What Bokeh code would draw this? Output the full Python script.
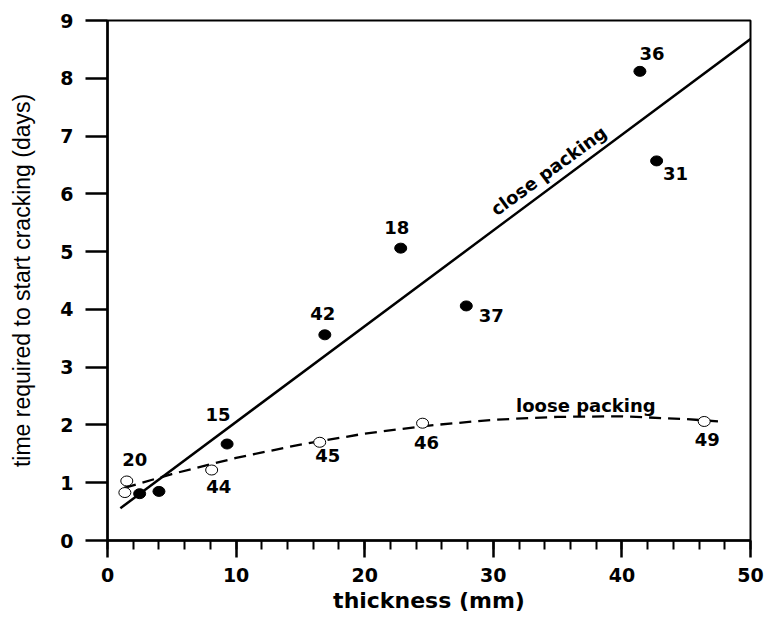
from bokeh.plotting import figure
from bokeh.models import ColumnDataSource, Range1d, FixedTicker
from bokeh.core.properties import value
from bokeh.embed import file_html
from bokeh.resources import INLINE

# ---- data ----
close_x = [41.4, 42.7, 22.8, 27.9, 16.9, 9.3, 2.5, 4.0]
close_y = [8.12, 6.57, 5.06, 4.06, 3.56, 1.67, 0.81, 0.85]
close_ids = ["36", "31", "18", "37", "42", "15", "", ""]

loose_x = [1.5, 1.35, 8.1, 16.5, 24.5, 46.4]
loose_y = [1.03, 0.83, 1.22, 1.70, 2.03, 2.06]
loose_ids = ["20", "", "44", "45", "46", "49"]

close_fit_x = [1.0, 50.0]
close_fit_y = [0.56, 8.68]

loose_fit_x = [1.3, 5, 10, 15, 20, 25, 30, 35, 40, 45, 47.7]
loose_fit_y = [0.91, 1.15, 1.43, 1.66, 1.85, 1.99, 2.09, 2.14, 2.15, 2.10, 2.06]

x_major = [0, 10, 20, 30, 40, 50]
x_minor = list(range(0, 51, 2))
y_major = [0, 1, 2, 3, 4, 5, 6, 7, 8, 9]

# label placement (screen px offsets from each point)
close_dx = [12, 19, -4, 25, -2, -9, 0, 0]
close_dy = [-18, 13, -21, 10, -21, -30, 0, 0]
loose_dx = [8, 0, 7, 8, 4, 3]
loose_dy = [-21, 0, 16, 13, 19, 18]

BOLD = "DejaVu Sans"

p = figure(width=766, height=617, output_backend="svg", toolbar_location=None,
           x_range=Range1d(0, 50), y_range=Range1d(0, 9))
p.min_border_left = 107
p.min_border_right = 16
p.min_border_top = 20
p.min_border_bottom = 77
p.background_fill_color = "white"
p.border_fill_color = "white"
p.grid.visible = False
p.outline_line_color = "black"
p.outline_line_width = 2
p.outline_line_alpha = 1

xa = p.xaxis[0]
xa.ticker = FixedTicker(ticks=x_major, minor_ticks=x_minor)
xa.axis_label = "thickness (mm)"
xa.axis_label_text_font = BOLD
xa.axis_label_text_font_style = "bold"
xa.axis_label_text_font_size = "22px"
xa.axis_label_text_color = "black"
xa.axis_label_standoff = 3
xa.major_label_text_font = BOLD
xa.major_label_text_font_style = "bold"
xa.major_label_text_font_size = "19px"
xa.major_label_text_color = "black"
xa.major_label_standoff = 10
xa.major_tick_out = 17
xa.major_tick_in = 0
xa.minor_tick_out = 9
xa.minor_tick_in = 0
xa.axis_line_width = 2.5
xa.major_tick_line_width = 2.5
xa.minor_tick_line_width = 2
xa.axis_line_color = "black"
xa.major_tick_line_color = "black"
xa.minor_tick_line_color = "black"

ya = p.yaxis[0]
ya.ticker = FixedTicker(ticks=y_major, minor_ticks=[])
ya.axis_label = "time required to start cracking (days)"
ya.axis_label_text_font = "Liberation Sans"
ya.axis_label_text_font_style = "normal"
ya.axis_label_text_font_size = "23px"
ya.axis_label_text_color = "black"
ya.axis_label_standoff = 22
ya.major_label_text_font = BOLD
ya.major_label_text_font_style = "bold"
ya.major_label_text_font_size = "19px"
ya.major_label_text_color = "black"
ya.major_label_standoff = 12
ya.major_tick_out = 22
ya.major_tick_in = 0
ya.minor_tick_out = 0
ya.minor_tick_in = 0
ya.axis_line_width = 2.5
ya.major_tick_line_width = 2.5
ya.axis_line_color = "black"
ya.major_tick_line_color = "black"

# fitted lines
p.line(close_fit_x, close_fit_y, line_color="black", line_width=2.5)
p.line(loose_fit_x, loose_fit_y, line_color="black", line_width=2.3, line_dash="12 7")

# points
close_src = ColumnDataSource(dict(x=close_x, y=close_y, t=close_ids, dx=close_dx, dy=close_dy))
loose_src = ColumnDataSource(dict(x=loose_x, y=loose_y, t=loose_ids, dx=loose_dx, dy=loose_dy))

p.ellipse(x="x", y="y", width=12, height=10, width_units="screen", height_units="screen",
          source=close_src, fill_color="black", line_color="black", line_width=1)
p.ellipse(x="x", y="y", width=12, height=10, width_units="screen", height_units="screen",
          source=loose_src, fill_color="white", line_color="black", line_width=1)

for src in (close_src, loose_src):
    p.text(x="x", y="y", text="t", x_offset="dx", y_offset="dy", source=src,
           text_font=value(BOLD), text_font_style="bold", text_font_size="18px",
           text_align="center", text_baseline="middle", text_color="black")

# curve labels
p.text(x=[34.3], y=[6.40], text=["close packing"], angle=0.63,
       text_font=value(BOLD), text_font_style="bold", text_font_size="18px",
       text_align="center", text_baseline="middle", text_color="black")
p.text(x=[37.2], y=[2.34], text=["loose packing"],
       text_font=value(BOLD), text_font_style="bold", text_font_size="18px",
       text_align="center", text_baseline="middle", text_color="black")

open("out.html", "w").write(file_html(p, INLINE))
